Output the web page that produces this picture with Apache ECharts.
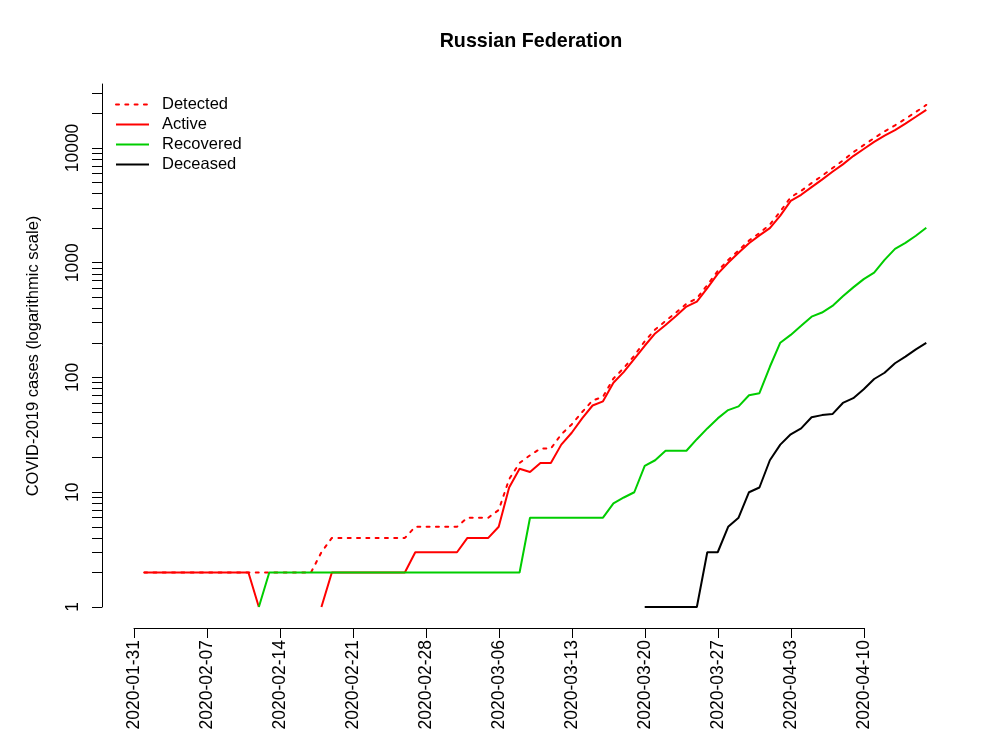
<!DOCTYPE html>
<html>
<head>
<meta charset="utf-8">
<script src="https://cdn.jsdelivr.net/npm/echarts@6/dist/echarts.min.js"></script>
<style>
html,body{margin:0;padding:0;background:#fff;}
#c{width:1000px;height:750px;}
</style>
</head>
<body>
<div id="c"></div>
<script>
// ---- data (one value per day, 2020-02-01 .. 2020-04-16) ----
const firstDay = '2020-02-01';
const originDay = '2020-01-31';

const detected = [
  2,2,2,2,2,2,2,2,2,2,2,2,2,2,2,2,2,
  3,
  4,4,4,4,4,4,4,4,
  5,5,5,5,5,
  6,6,6,
  7,13,18,21,24,24,32,39,50,63,68,98,121,155,207,262,311,368,439,489,
  640,847,1057,1282,1560,1814,2150,2797,3727,4228,4944,5715,6668,7770,9176,
  10600,12200,13970,15750,17940,20600,23720
];
const active = [
  2,2,2,2,2,2,2,2,2,2,2,
  1,
  null,null,null,null,null,
  1,
  2,2,2,2,2,2,2,2,
  3,3,3,3,3,
  4,4,4,
  5,11,16,15,18,18,26,33,44,57,62,90,112,145,189,242,287,344,415,459,
  600,800,1000,1220,1480,1730,2000,2570,3460,3910,4560,5300,6200,7200,8500,
  9800,11300,12800,14300,16300,18700,21500
];
const recovered = [
  null,null,null,null,null,null,null,null,null,null,null,
  1,
  2,2,2,2,2,2,2,2,2,2,2,2,2,2,2,2,2,2,2,2,2,2,2,2,2,
  6,6,6,6,6,6,6,6,
  8,9,10,17,19,23,23,23,29,36,44,52,56,70,73,124,201,235,282,339,368,
  420,510,610,720,820,1060,1320,1490,1720,2020
];
const deceased = [
  null,null,null,null,null,null,null,null,null,null,null,null,
  null,null,null,null,null,null,null,null,null,null,null,null,
  null,null,null,null,null,null,null,null,null,null,null,null,
  null,null,null,null,null,null,null,null,null,null,null,null,
  1,1,1,1,1,1,
  3,3,5,6,10,11,19,26,32,36,45,47,48,60,66,79,97,110,133,152,176,200
];

const seriesNames = ['Detected','Active','Recovered','Deceased'];
const xTickLabels = ['2020-01-31','2020-02-07','2020-02-14','2020-02-21','2020-02-28',
  '2020-03-06','2020-03-13','2020-03-20','2020-03-27','2020-04-03','2020-04-10'];
const yLabelValues = [1,10,100,1000,10000];
const yTickValues = [1,2,3,4,5,6,7,8,9,10,20,30,40,50,60,70,80,90,
  100,200,300,400,500,600,700,800,900,1000,2000,3000,4000,5000,6000,7000,8000,9000,
  10000,20000,30000];

// ---- helpers ----
const DAY = 86400000;
const t0 = Date.parse(originDay + 'T00:00:00Z');
const t1 = Date.parse(firstDay + 'T00:00:00Z');
const dates = detected.map((_, i) => new Date(t1 + i * DAY).toISOString().slice(0, 10));
const dayOf = s => Math.round((Date.parse(s + 'T00:00:00Z') - t0) / DAY);
const pairs = arr => arr.map((v, i) => [dayOf(dates[i]), v]);

// plotting range: days 0..76 widened by 4% each side (as in base R)
const lastDay = dayOf(dates[dates.length - 1]);
const pad = lastDay * 0.04;
const Y_MIN = 1, Y_MAX = 36100;

const FONT = 'Liberation Sans, Arial, Helvetica, sans-serif';
const chart = echarts.init(document.getElementById('c'), null, {renderer: 'canvas'});

function lineSeries(name, arr, color, dash) {
  return {
    name: name, type: 'line', data: pairs(arr), xAxisIndex: 0, yAxisIndex: 0,
    showSymbol: false, symbol: 'none', connectNulls: false,
    itemStyle: {color: color},
    lineStyle: {color: color, width: 2, type: dash || 'solid', cap: dash ? 'round' : 'butt'},
    emphasis: {disabled: true}, silent: true
  };
}

chart.setOption({
  animation: false,
  backgroundColor: '#fff',
  title: {
    text: 'Russian Federation', left: 531, top: 32, textAlign: 'center', padding: 0,
    textStyle: {fontFamily: FONT, fontSize: 19.7, fontWeight: 'bold', color: '#000'}
  },
  legend: {
    orient: 'vertical', left: 115, top: 96, padding: 0,
    itemWidth: 33, itemHeight: 14, itemGap: 3,
    data: seriesNames,
    itemStyle: {opacity: 0},
    textStyle: {fontFamily: FONT, fontSize: 16.5, color: '#000', padding: [0, 0, 0, 8]},
    selectedMode: false
  },
  graphic: [{
    type: 'text', x: 33, y: 356, rotation: Math.PI / 2,
    style: {text: 'COVID-2019 cases (logarithmic scale)', font: '16.5px ' + FONT,
      fill: '#000', align: 'center', verticalAlign: 'middle'}
  }],
  grid: [
    {left: 102, top: 84, width: 856, height: 523},   // data region
    {left: 134, top: 84, width: 730, height: 523}    // axes region
  ],
  xAxis: [
    {type: 'value', gridIndex: 0, min: -pad, max: lastDay + pad, show: false},
    {
      type: 'value', gridIndex: 1, min: 0, max: 70, interval: 7, offset: 21,
      axisLine: {show: true, onZero: false, lineStyle: {color: '#000', width: 1}},
      axisTick: {show: true, length: 10, lineStyle: {color: '#000', width: 1}},
      axisLabel: {
        rotate: 90, margin: 12, fontFamily: FONT, fontSize: 17.5, color: '#000',
        formatter: v => xTickLabels[Math.round(v / 7)] || ''
      },
      splitLine: {show: false}
    }
  ],
  yAxis: [
    {type: 'log', logBase: 10, gridIndex: 0, min: Y_MIN, max: Y_MAX, show: false},
    {
      type: 'log', logBase: 10, gridIndex: 1, min: Y_MIN, max: Y_MAX, offset: 32,
      axisLine: {show: true, onZero: false, lineStyle: {color: '#000', width: 1}},
      axisTick: {show: true, length: 10, customValues: yTickValues, lineStyle: {color: '#000', width: 1}},
      axisLabel: {
        customValues: yLabelValues, rotate: 90, margin: 20,
        fontFamily: FONT, fontSize: 17.5, color: '#000',
        formatter: v => String(Math.round(v))
      },
      minorTick: {show: false},
      splitLine: {show: false}
    }
  ],
  series: [
    lineSeries(seriesNames[0], detected, '#FF0000', [3, 6.3]),
    lineSeries(seriesNames[1], active, '#FF0000'),
    lineSeries(seriesNames[2], recovered, '#00CD00'),
    lineSeries(seriesNames[3], deceased, '#000000')
  ]
});
</script>
</body>
</html>
